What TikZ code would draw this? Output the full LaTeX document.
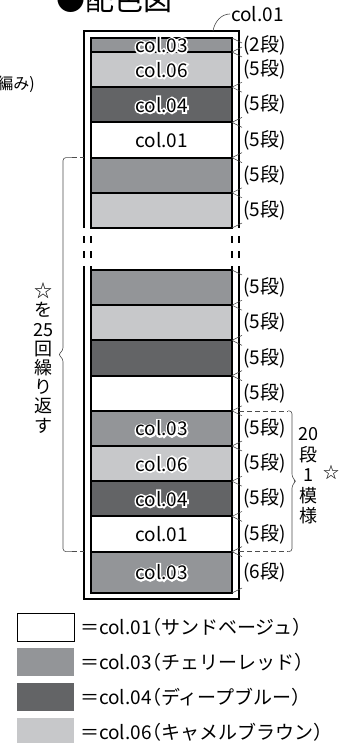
\documentclass[tikz,border=0pt]{standalone}
\usepackage{fontspec}
\setmainfont{Noto Sans CJK JP}
\newfontfamily\halofont[FakeBold=18]{Noto Sans CJK JP}
\newfontfamily\keyfont[RawFeature=+halt]{Noto Sans CJK JP}
\usetikzlibrary{positioning}
\definecolor{col03}{HTML}{939598}
\definecolor{col04}{HTML}{636466}
\definecolor{col06}{HTML}{C7C8CA}

\begin{document}
\begin{tikzpicture}[x=1pt,y=1pt,
  band/.style={draw,line width=2pt,fill=#1,minimum width=141pt,minimum height=35.2pt,outer sep=0pt,inner sep=0pt},
  colname/.style={inner sep=0pt,font=\fontsize{19}{19}\selectfont},
  halo/.style={colname,text=white,font=\fontsize{19}{19}\halofont},
  dan/.style={inner sep=0pt,font=\fontsize{19}{19}\selectfont},
  tick/.style={draw=black!75,line width=0.5pt},
  rim/.style={draw,line width=2pt},
  gap/.style={dash pattern=on 7pt off 8pt,dash phase=7pt},
  brc/.style={draw=black!70,line width=0.6pt},
  dsh/.style={brc,dash pattern=on 5pt off 3pt},
  vtext/.style={align=center,inner sep=0pt,font=\fontsize{18}{19.2}\selectfont},
  key/.style={minimum width=57pt,minimum height=28pt,outer sep=0pt,inner sep=0pt},
  keytext/.style={inner sep=0pt,font=\fontsize{19}{19}\keyfont}]
\useasboundingbox (0,0) rectangle (340,-743);

\node[anchor=base west,inner sep=0pt,font=\fontsize{29}{29}\selectfont] (title) at (56,-11) {●配色図};
\node[anchor=east,inner sep=0pt,font=\fontsize{16}{16}\selectfont] (knit) at (35,-84) {編み)};

\coordinate (ftl) at (84,-31);
\coordinate (ftr) at (239,-31);
\coordinate (fbl) at (84,-599);
\coordinate (fbr) at (239,-599);

\node[band=col03,minimum height=14pt] (b1) at (161.5,-45) {};
\node[band=col06,below=0pt of b1] (b2) {};
\node[band=col04,below=0pt of b2] (b3) {};
\node[band=white,below=0pt of b3] (b4) {};
\node[band=col03,below=0pt of b4] (b5) {};
\node[band=col06,below=0pt of b5] (b6) {};
\node[band=col03,below=42pt of b6] (b7) {};
\node[band=col06,below=0pt of b7] (b8) {};
\node[band=col04,below=0pt of b8] (b9) {};
\node[band=white,below=0pt of b9] (b10) {};
\node[band=col03,below=0pt of b10] (b11) {};
\node[band=col06,below=0pt of b11] (b12) {};
\node[band=col04,below=0pt of b12] (b13) {};
\node[band=white,below=0pt of b13] (b14) {};
\node[band=col03,minimum height=41.4pt,below=0pt of b14] (b15) {};

\draw[rim] (ftl |- b6.south) -- (ftl) -- (ftr) -- (ftr |- b6.south);
\draw[rim] (fbl |- b7.north) -- (fbl) -- (fbr) -- (fbr |- b7.north);
\draw[rim,gap] (ftl |- b6.south) -- (fbl |- b7.north)
  (ftr |- b6.south) -- (fbr |- b7.north)
  (b6.south west) -- (b7.north west)
  (b6.south east) -- (b7.north east);

\node[halo] (h1) at (b1) {col.03};
\node[colname] (n1) at (b1) {col.03};
\node[halo] (h2) at (b2) {col.06};
\node[colname] (n2) at (b2) {col.06};
\node[halo] (h3) at (b3) {col.04};
\node[colname] (n3) at (b3) {col.04};
\node[colname] (n4) at (b4) {col.01};
\node[halo] (h11) at (b11) {col.03};
\node[colname] (n11) at (b11) {col.03};
\node[halo] (h12) at (b12) {col.06};
\node[colname] (n12) at (b12) {col.06};
\node[halo] (h13) at (b13) {col.04};
\node[colname] (n13) at (b13) {col.04};
\node[colname] (n14) at (b14) {col.01};
\node[halo] (h15) at (b15) {col.03};
\node[colname] (n15) at (b15) {col.03};

\node[dan,right=11pt of b1] (d1) {(2段)};
\node[dan,right=11pt of b2] (d2) {(5段)};
\node[dan,right=11pt of b3] (d3) {(5段)};
\node[dan,right=11pt of b4] (d4) {(5段)};
\node[dan,right=11pt of b5] (d5) {(5段)};
\node[dan,right=11pt of b6] (d6) {(5段)};
\node[dan,right=11pt of b7] (d7) {(5段)};
\node[dan,right=11pt of b8] (d8) {(5段)};
\node[dan,right=11pt of b9] (d9) {(5段)};
\node[dan,right=11pt of b10] (d10) {(5段)};
\node[dan,right=11pt of b11] (d11) {(5段)};
\node[dan,right=11pt of b12] (d12) {(5段)};
\node[dan,right=11pt of b13] (d13) {(5段)};
\node[dan,right=11pt of b14] (d14) {(5段)};
\node[dan,right=11pt of b15] (d15) {(6段)};

\draw[tick] (b1.north east) -- +(10,-5) (b1.south east) -- +(10,5)
  (b2.north east) -- +(10,-5) (b2.south east) -- +(10,5)
  (b3.north east) -- +(10,-5) (b3.south east) -- +(10,5)
  (b4.north east) -- +(10,-5) (b4.south east) -- +(10,5)
  (b5.north east) -- +(10,-5) (b5.south east) -- +(10,5)
  (b6.north east) -- +(10,-5) (b6.south east) -- +(10,5)
  (b7.north east) -- +(10,-5) (b7.south east) -- +(10,5)
  (b8.north east) -- +(10,-5) (b8.south east) -- +(10,5)
  (b9.north east) -- +(10,-5) (b9.south east) -- +(10,5)
  (b10.north east) -- +(10,-5) (b10.south east) -- +(10,5)
  (b11.north east) -- +(10,-5) (b11.south east) -- +(10,5)
  (b12.north east) -- +(10,-5) (b12.south east) -- +(10,5)
  (b13.north east) -- +(10,-5) (b13.south east) -- +(10,5)
  (b14.north east) -- +(10,-5) (b14.south east) -- +(10,5)
  (b15.north east) -- +(10,-5) (b15.south east) -- +(10,5);

\node[anchor=west,inner sep=0pt,font=\fontsize{19}{19}\selectfont] (c01) at (231,-14) {col.01};
\coordinate (lead) at ([xshift=-26pt]ftr);
\draw[brc,shorten >=1pt] (lead) to[out=80,in=180] (c01.west);

\coordinate (lt) at ([xshift=-19pt]b5.north west);
\coordinate (lb) at ([xshift=-19pt]b14.south west);
\draw[dsh] (lt) -- (ftl |- lt) (lb) -- (fbl |- lb);
\draw[brc,rounded corners=3pt] (lt) -- (63,-157.6) -- (63,-350.6) -- (58,-354.6) -- (63,-358.6) -- (63,-551.6) -- (lb);
\node[vtext] (rep) at (43,-358) {☆\\を\\25\\回\\繰\\り\\返\\す};

\coordinate (rt) at ([xshift=56pt]b11.north east);
\coordinate (rb) at ([xshift=56pt]b14.south east);
\draw[dsh] (ftr |- rt) -- (rt) (fbr |- rb) -- (rb);
\draw[brc,rounded corners=3pt] (rt) -- (292,-410.8) -- (292,-477.2) -- (296,-481.2) -- (292,-485.2) -- (292,-551.6) -- (rb);
\node[vtext,font=\fontsize{18}{20.5}\selectfont] (pat) at (308,-476) {20\\段\\1\\模\\様};
\node[inner sep=0pt,font=\fontsize{16}{16}\selectfont] (star) at (331,-472) {☆};

\node[key,draw,line width=0.8pt,fill=white] (k1) at (45.5,-627) {};
\node[key,fill=col03,below=7pt of k1] (k2) {};
\node[key,fill=col04,below=7pt of k2] (k3) {};
\node[key,fill=col06,below=7pt of k3] (k4) {};
\node[keytext,right=6pt of k1] (l1) {＝col.01（サンドベージュ）};
\node[keytext,right=6pt of k2] (l2) {＝col.03（チェリーレッド）};
\node[keytext,right=6pt of k3] (l3) {＝col.04（ディープブルー）};
\node[keytext,right=6pt of k4] (l4) {＝col.06（キャメルブラウン）};
\end{tikzpicture}
\end{document}
